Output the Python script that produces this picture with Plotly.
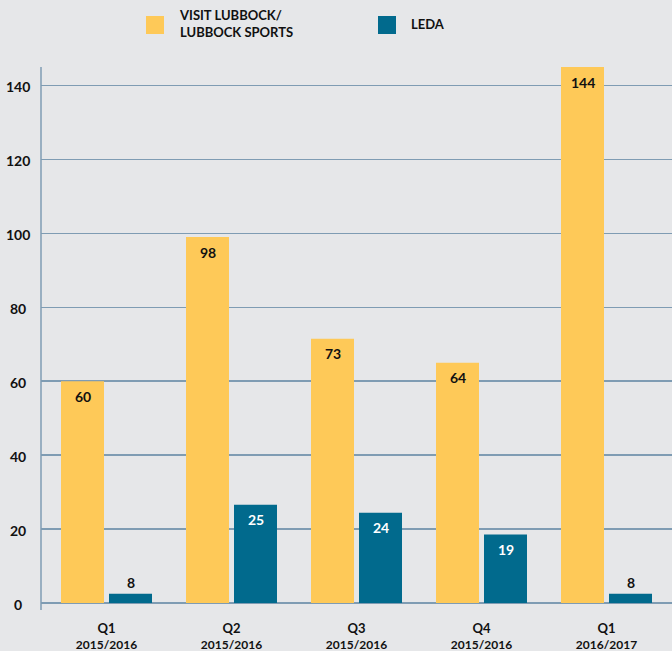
import plotly.graph_objects as go

# ---- data ----
categories = ["Q1 2015/2016", "Q2 2015/2016", "Q3 2015/2016", "Q4 2015/2016", "Q1 2016/2017"]
tick_top = ["Q1", "Q2", "Q3", "Q4", "Q1"]
tick_bottom = ["2015/2016", "2015/2016", "2015/2016", "2015/2016", "2016/2017"]

series1_name = "VISIT LUBBOCK/<br>LUBBOCK SPORTS"
series1_heights = [60, 99, 71.5, 65, 145]      # bar heights as drawn
series1_labels = ["60", "98", "73", "64", "144"]  # printed labels
series1_inside = [True, True, True, True, True]

series2_name = "LEDA"
series2_heights = [2.5, 26.6, 24.4, 18.5, 2.5]
series2_labels = ["8", "25", "24", "19", "8"]
series2_inside = [False, True, True, True, False]

y_ticks = [0, 20, 40, 60, 80, 100, 120, 140]

# ---- styles ----
YELLOW = "#FEC958"
BLUE = "#016A8D"
BG = "#E6E7E9"
GRID = "#7F9CB3"
TXT = "#111111"
FONT = "Lato"

L, R, T, B = 41, 0, 67, 48
W, H = 672, 651
PW, PH = W - L - R, H - T - B


def xp(p):
    return (p - L) / PW


def yp(p):
    return (H - B - p) / PH


fig = go.Figure()
fig.add_trace(go.Bar(
    x=categories, y=series1_heights, name=series1_name,
    marker=dict(color=YELLOW, line=dict(width=0)),
    cliponaxis=False, showlegend=False, hoverinfo="skip",
))
fig.add_trace(go.Bar(
    x=categories, y=series2_heights, name=series2_name,
    marker=dict(color=BLUE, line=dict(width=0)),
    cliponaxis=False, showlegend=False, hoverinfo="skip",
))

# value labels
for heights, labels, inside, dx, in_col in [
    (series1_heights, series1_labels, series1_inside, -24, TXT),
    (series2_heights, series2_labels, series2_inside, 24, "white"),
]:
    for c, h, lab, ins in zip(categories, heights, labels, inside):
        fig.add_annotation(x=c, y=h, xref="x", yref="y", xshift=dx,
                           yshift=-15 if ins else 11, text=lab, showarrow=False,
                           xanchor="center", yanchor="middle",
                           font=dict(family=FONT, size=14, color=in_col if ins else TXT, weight=700))

ticktext = [f"<span style='font-size:13px'>{a}</span><br>{b}" for a, b in zip(tick_top, tick_bottom)]

fig.update_layout(
    width=W, height=H,
    margin=dict(l=L, r=R, t=T, b=B, pad=0, autoexpand=False),
    paper_bgcolor=BG, plot_bgcolor=BG,
    barmode="group", bargap=0.232, bargroupgap=0.104,
    font=dict(family=FONT, color=TXT),
    xaxis=dict(
        type="category", range=[-0.524, 4.524], automargin=False,
        tickmode="array", tickvals=categories, ticktext=ticktext,
        tickfont=dict(family=FONT, size=12, color=TXT, weight=700),
        showgrid=False, zeroline=False, showline=False, ticks="",
        ticklabelstandoff=17, fixedrange=True,
    ),
    yaxis=dict(
        range=[0, 145], tickvals=y_ticks, showticklabels=False, automargin=False,
        showgrid=True, gridcolor=GRID, gridwidth=1.5,
        zeroline=True, zerolinecolor=GRID, zerolinewidth=2,
        showline=False, ticks="", fixedrange=True,
    ),
)

# y-axis line (extends slightly below zero)
fig.add_shape(type="line", xref="paper", yref="paper", x0=0, x1=0, y0=yp(H - B + 7), y1=1,
              line=dict(color=GRID, width=1.5))

# y tick labels (centered in the label column)
for v in y_ticks:
    fig.add_annotation(xref="paper", yref="y", x=0, y=v, xshift=-23, yshift=-1,
                       text=str(v), showarrow=False, xanchor="center", yanchor="middle",
                       font=dict(family=FONT, size=14, color=TXT, weight=700))

# legend (manual)
legend_items = [(series1_name, YELLOW, 146), (series2_name, BLUE, 378)]
for name, col, px in legend_items:
    fig.add_shape(type="rect", xref="paper", yref="paper",
                  x0=xp(px), x1=xp(px + 18), y0=yp(34), y1=yp(16),
                  fillcolor=col, line=dict(width=0))
    fig.add_annotation(xref="paper", yref="paper", x=xp(px + 31), y=yp(24),
                       text=name, showarrow=False, xanchor="left", yanchor="middle",
                       align="left",
                       font=dict(family=FONT, size=13, color=TXT, weight=700))

fig.write_html("out.html", config={"displayModeBar": False, "staticPlot": True},
               post_script="document.body.style.margin='0';document.body.style.background='%s';" % BG)
